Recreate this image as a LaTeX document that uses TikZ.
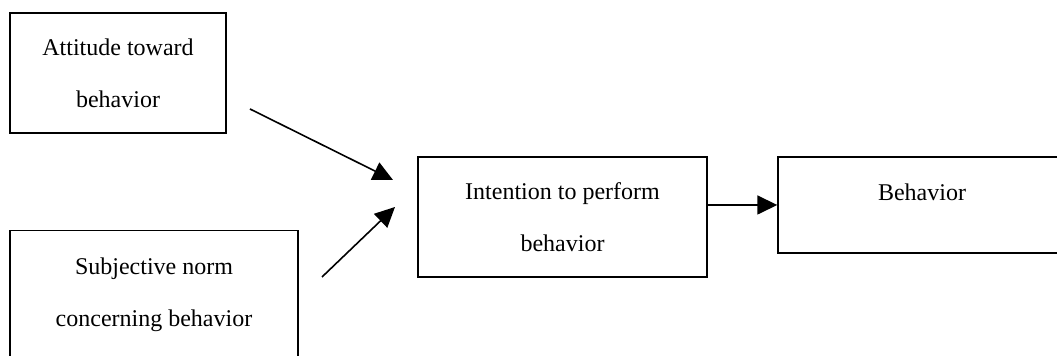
\documentclass[tikz,border=0pt]{standalone}
\usepackage{fontspec}
\setmainfont{Liberation Serif}
\usetikzlibrary{positioning,arrows.meta}

\begin{document}
\begin{tikzpicture}[x=0.5pt,y=-0.5pt,
    factor/.style={draw, line width=0.7pt, align=center, inner xsep=4pt,
      font=\fontsize{12}{26}\selectfont},
    link/.style={line width=0.8pt, -{Triangle[length=10pt,width=9.5pt]}}]
    \path[use as bounding box, clip] (0,0) rectangle (1057,356);

    \node(att) [factor, minimum width=108pt, minimum height=60pt] at (118,73)
      {Attitude toward\\behavior};
    \node(norm) [factor, anchor=north, minimum width=144pt, inner ysep=13.5pt,
      text depth=60pt] at (154,230) {Subjective norm\\concerning behavior};
    \node(int) [factor, minimum width=144.5pt, minimum height=60pt] at (562.5,217)
      {Intention to perform\\behavior};
    \node(beh) [factor, minimum width=144pt, minimum height=48pt,
      text height=8.2pt, text depth=12.8pt] at (922,205) {Behavior};

    \coordinate (attout) at (250,109);
    \coordinate (attin) at (393,180);
    \coordinate (normout) at (322,277);
    \coordinate (normin) at (395,207);

    \draw[link](attout) -- (attin);
    \draw[link](normout) -- (normin);
    \draw[link](int.east |- beh.west) -- (beh.west);
\end{tikzpicture}
\end{document}
